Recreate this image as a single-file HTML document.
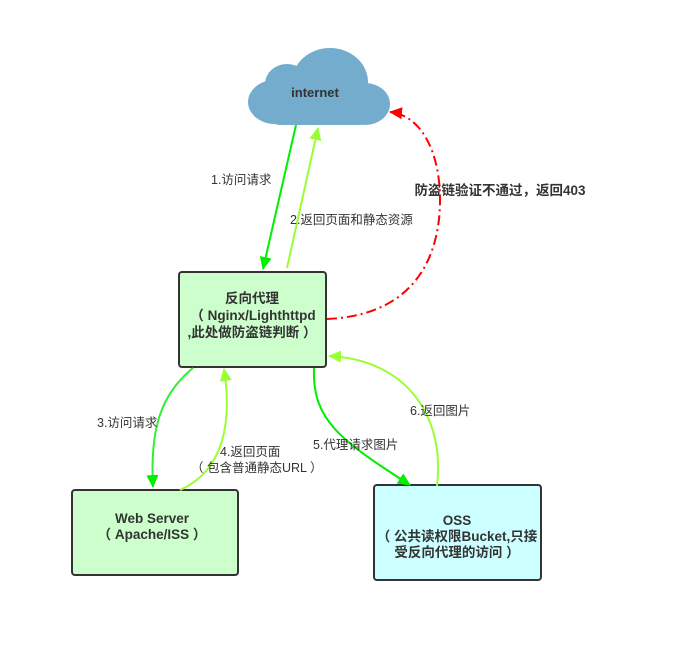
<!DOCTYPE html>
<html><head><meta charset="utf-8"><style>
body{margin:0;background:#fff;}
svg{display:block;font-family:"Liberation Sans","Noto Sans CJK SC",sans-serif;}
</style></head><body>
<svg width="674" height="659" viewBox="0 0 674 659" xmlns="http://www.w3.org/2000/svg">
<defs>
<marker id="ag" markerWidth="13" markerHeight="12" refX="12" refY="6" orient="auto" markerUnits="userSpaceOnUse"><path d="M0,0 L13,6 L0,12 z" fill="#00ee00"/></marker>
<marker id="al" markerWidth="13" markerHeight="12" refX="12" refY="6" orient="auto" markerUnits="userSpaceOnUse"><path d="M0,0 L13,6 L0,12 z" fill="#99ff33"/></marker>
<marker id="ar" markerWidth="13" markerHeight="12" refX="12" refY="6" orient="auto" markerUnits="userSpaceOnUse"><path d="M0,0 L13,6 L0,12 z" fill="#ff0000"/></marker>
</defs>
<g fill="#74acce">
<ellipse cx="330" cy="82" rx="38" ry="34"/>
<ellipse cx="287" cy="84" rx="22" ry="20"/>
<ellipse cx="275" cy="102" rx="27" ry="22"/>
<ellipse cx="365" cy="104" rx="25" ry="21"/>
<rect x="270" y="90" width="100" height="35" rx="10"/>
</g>
<text x="315" y="97" text-anchor="middle" font-size="13" font-weight="bold" fill="#333">internet</text>

<rect x="179" y="272" width="147" height="95" rx="3" fill="#ccffcc" stroke="#333" stroke-width="2"/>
<rect x="72" y="490" width="166" height="85" rx="3" fill="#ccffcc" stroke="#333" stroke-width="2"/>
<rect x="374" y="485" width="167" height="95" rx="3" fill="#ccffff" stroke="#333" stroke-width="2"/>
<g font-size="13.5" font-weight="bold" fill="#333" text-anchor="middle">
<text x="252" y="303">反向代理</text>
<text x="253" y="320">（ Nginx/Lighthttpd</text>
<text x="252" y="337">,此处做防盗链判断 ）</text>
<text x="152" y="523">Web Server</text>
<text x="152" y="539">（ Apache/ISS ）</text>
<text x="457" y="525">OSS</text>
<text x="457" y="541">（ 公共读权限Bucket,只接</text>
<text x="457" y="557">受反向代理的访问 ）</text>
<text x="500" y="195">防盗链验证不通过，返回403</text>
</g>

<g fill="none" stroke-width="2">
<path d="M296,125 L263,269" stroke="#00ee00" marker-end="url(#ag)"/>
<path d="M287,268 L318,128" stroke="#99ff33" marker-end="url(#al)"/>
<path d="M327,319 C420,315 440,250 440,200 C440,150 420,115 390,112" stroke="#ff0000" stroke-dasharray="10,4,2,4" marker-end="url(#ar)"/>
<path d="M193,368 C160,395 150,430 153,487" stroke="#33ee33" marker-end="url(#ag)"/>
<path d="M180,490 C225,470 232,420 224,369" stroke="#99ff33" marker-end="url(#al)"/>
<path d="M314,368 C312,420 340,440 410,485" stroke="#00ee00" marker-end="url(#ag)"/>
<path d="M437,486 C445,420 410,360 329,356" stroke="#99ff33" marker-end="url(#al)"/>
</g>

<g font-size="12.5" fill="#333">
<text x="211" y="184">1.访问请求</text>
<text x="290" y="224">2.返回页面和静态资源</text>
<text x="97" y="427">3.访问请求</text>
<text x="220" y="456">4.返回页面</text>
<text x="191" y="472">（ 包含普通静态URL ）</text>
<text x="313" y="449">5.代理请求图片</text>
<text x="410" y="415">6.返回图片</text>
</g>
</svg>
</body></html>
